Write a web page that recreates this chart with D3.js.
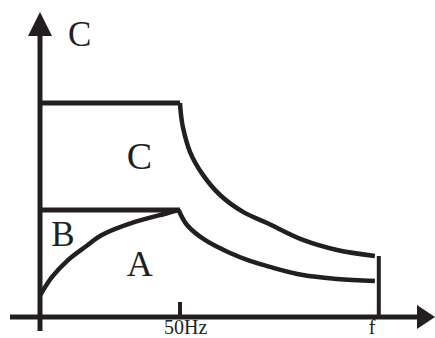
<!DOCTYPE html>
<html>
<head>
<meta charset="utf-8">
<script src="https://cdn.jsdelivr.net/npm/d3@7"></script>
<style>
  html, body { margin: 0; padding: 0; background: #fff; }
  svg { display: block; }
</style>
</head>
<body>
<div id="chart"></div>
<script>
// frequency in Hz, value on a 0-100 scale (100 = rated level C)
const baseFreq = 50,
  maxFreq = 121;

// C : constant up to 50Hz, then falling
const curveC = [
  [50, 100], [50.4, 94], [51.1, 88.3], [53.6, 77.1], [58.2, 66.4], [64.3, 57.0],
  [72.5, 49.1], [81.1, 43.9], [93.9, 36.0], [106.1, 31.3], [119.6, 28.5]
];
// A : rising part below 50Hz
const curveArise = [
  [0, 10], [4.3, 18.7], [10, 26.6], [16.1, 32.7], [22.1, 38.3],
  [33.9, 44.4], [45.7, 48.6], [49.5, 50]
];
// A : falling part above 50Hz
const curveAfall = [
  [49.5, 50], [52.5, 43.0], [58.9, 36.0], [67.9, 29.9], [75, 26.2],
  [82.1, 23.4], [93.9, 19.6], [106.1, 17.8], [119.6, 16.8]
];
const levelC = 100, levelB = 50, fLineTop = 28.5;

const tickLabels = [
  { v: baseFreq, text: "50Hz", dx: -16 },
  { v: maxFreq, text: "f", dx: -10 }
];
const regionLabels = [
  { text: "C", x: 10, y: 126.5, size: 35 },
  { text: "C", x: 31, y: 69, size: 38 },
  { text: "B", x: 4, y: 33, size: 35 },
  { text: "A", x: 31, y: 19, size: 36 }
];

const width = 435, height = 338;
const ink = "#231f20";

const x = d3.scaleLinear().domain([0, baseFreq]).range([40, 180]);
const y = d3.scaleLinear().domain([0, levelC]).range([317, 103]);

const svg = d3.select("#chart").append("svg")
  .attr("width", width)
  .attr("height", height);

// axes
svg.append("line")
  .attr("x1", x(0)).attr("x2", x(0))
  .attr("y1", 331).attr("y2", 34)
  .attr("stroke", ink).attr("stroke-width", 5);
svg.append("path")
  .attr("d", `M${x(0)},12 L${x(0) - 12},36 L${x(0) + 12},36 Z`)
  .attr("fill", ink);

svg.append("line")
  .attr("x1", 10).attr("x2", 419)
  .attr("y1", y(0)).attr("y2", y(0))
  .attr("stroke", ink).attr("stroke-width", 5);
svg.append("path")
  .attr("d", `M435,${y(0)} L417,${y(0) - 12} L417,${y(0) + 12} Z`)
  .attr("fill", ink);

// tick at 50Hz
svg.append("line")
  .attr("x1", x(baseFreq)).attr("x2", x(baseFreq))
  .attr("y1", y(0) - 15).attr("y2", y(0))
  .attr("stroke", ink).attr("stroke-width", 4);

// f line
svg.append("line")
  .attr("x1", x(maxFreq)).attr("x2", x(maxFreq))
  .attr("y1", y(fLineTop)).attr("y2", y(0))
  .attr("stroke", ink).attr("stroke-width", 4);

// horizontal levels
[levelC, levelB].forEach(v => {
  svg.append("line")
    .attr("x1", x(0)).attr("x2", x(baseFreq))
    .attr("y1", y(v)).attr("y2", y(v))
    .attr("stroke", ink).attr("stroke-width", 5);
});

const line = d3.line()
  .x(d => x(d[0]))
  .y(d => y(d[1]))
  .curve(d3.curveCatmullRom.alpha(0.5));

[curveC, curveArise, curveAfall].forEach(c => {
  svg.append("path")
    .attr("d", line(c))
    .attr("fill", "none")
    .attr("stroke", ink)
    .attr("stroke-width", 4.5);
});

// labels
svg.selectAll("text.tick")
  .data(tickLabels)
  .join("text")
  .attr("class", "tick")
  .attr("x", d => x(d.v) + d.dx)
  .attr("y", 333.5)
  .attr("font-family", "'Liberation Serif', 'Times New Roman', serif")
  .attr("font-size", 20)
  .attr("fill", ink)
  .text(d => d.text);

svg.selectAll("text.region")
  .data(regionLabels)
  .join("text")
  .attr("class", "region")
  .attr("x", d => x(d.x))
  .attr("y", d => y(d.y))
  .attr("font-family", "'Liberation Serif', 'Times New Roman', serif")
  .attr("font-size", d => d.size)
  .attr("fill", ink)
  .text(d => d.text);
</script>
</body>
</html>
